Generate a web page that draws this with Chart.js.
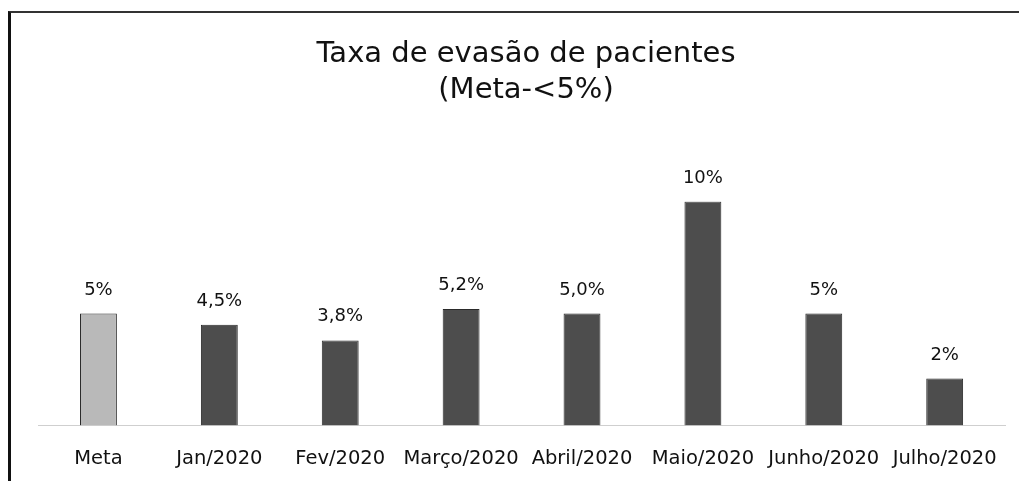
<!DOCTYPE html>
<html>
<head>
<meta charset="utf-8">
<script src="https://cdn.jsdelivr.net/npm/chart.js@4"></script>
<style>
  html, body { margin: 0; padding: 0; background: #fff; }
  #wrap { position: relative; width: 1019px; height: 481px; overflow: hidden; }
  #frame { position: absolute; left: 8px; top: 11px; right: -5px; bottom: -5px;
           border-left: 3px solid #111; border-top: 2px solid #333; pointer-events: none; }
  canvas { position: absolute; left: 0; top: 0; }
</style>
</head>
<body>
<div id="wrap">
  <canvas id="c" width="1019" height="481"></canvas>
  <div id="frame"></div>
</div>
<script>
const categories = ["Meta", "Jan/2020", "Fev/2020", "Março/2020", "Abril/2020", "Maio/2020", "Junho/2020", "Julho/2020"];
const values = [5, 4.5, 3.8, 5.2, 5.0, 10, 5, 2.1];
const valueLabels = ["5%", "4,5%", "3,8%", "5,2%", "5,0%", "10%", "5%", "2%"];
const barColors = ["#b9b9b9", "#4d4d4d", "#4d4d4d", "#4d4d4d", "#4d4d4d", "#4d4d4d", "#4d4d4d", "#4d4d4d"];
const titleLines = ["Taxa de evasão de pacientes", "(Meta-<5%)"];

const valueLabelPlugin = {
  id: 'valueLabels',
  afterDatasetsDraw(chart) {
    const ctx = chart.ctx;
    const meta = chart.getDatasetMeta(0);
    ctx.save();
    ctx.font = '18px "DejaVu Sans"';
    ctx.fillStyle = '#111';
    ctx.textAlign = 'center';
    ctx.textBaseline = 'alphabetic';
    meta.data.forEach((el, i) => {
      ctx.fillText(valueLabels[i], el.x, el.y - 19);
    });
    ctx.restore();
  }
};

new Chart(document.getElementById('c'), {
  type: 'bar',
  data: {
    labels: categories,
    datasets: [{
      data: values,
      backgroundColor: barColors,
      borderColor: "#2a2a2a",
      borderWidth: 1,
      barPercentage: 0.305,
      categoryPercentage: 1
    }]
  },
  options: {
    responsive: false,
    animation: false,
    layout: { padding: { left: 38, right: 5, top: 0, bottom: -12 } },
    plugins: {
      legend: { display: false },
      tooltip: { enabled: false },
      title: {
        display: true,
        text: titleLines,
        color: '#111',
        font: { family: 'DejaVu Sans', size: 29, weight: 'normal', lineHeight: 1.25 },
        padding: { top: 36, bottom: 93 }
      }
    },
    scales: {
      x: {
        grid: { display: false, drawTicks: false },
        border: { display: true, color: '#cfcfcf', dash: [2, 4], width: 1 },
        ticks: {
          color: '#111',
          font: { family: 'DejaVu Sans', size: 19.5 },
          padding: 22,
          autoSkip: false,
          maxRotation: 0,
          minRotation: 0
        }
      },
      y: {
        display: false,
        min: 0,
        max: 10
      }
    }
  },
  plugins: [valueLabelPlugin]
});
</script>
</body>
</html>
